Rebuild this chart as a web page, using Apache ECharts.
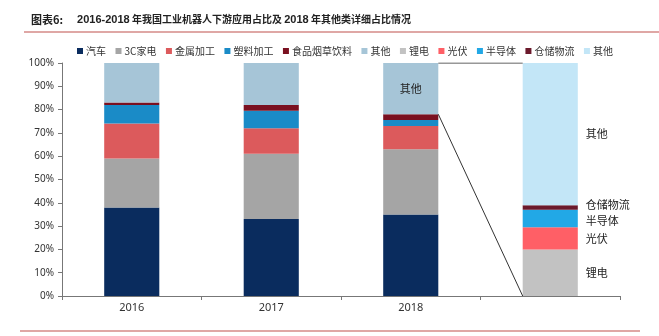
<!DOCTYPE html>
<html><head><meta charset="utf-8">
<script src="https://cdn.jsdelivr.net/npm/echarts@6/dist/echarts.min.js"></script>
<style>html,body{margin:0;padding:0;background:#fff}#c{width:659px;height:336px}</style>
</head><body><div id="c"></div>
<script>
// ---- data ----
const categories = ['2016', '2017', '2018', ''];
const yTicks = [0,10,20,30,40,50,60,70,80,90,100];
// main breakdown (2016-2018)
const mainNames = ['汽车', '3C家电', '金属加工', '塑料加工', '食品烟草饮料', '其他'];
const car      = [38, 33, 35];
const appl3C   = [21, 28, 28];
const metal    = [15, 11, 10];
const plastic  = [8, 7.5, 2.5];
const food     = [1, 2.5, 2.5];
const otherMain= [17, 18, 22];
// 2018 "其他" detail breakdown
const detailNames = ['锂电', '光伏', '半导体', '仓储物流', '其他'];
const lithium  = 20;
const pv       = 9.5;
const semi     = 7.5;
const logistic = 2;
const otherDet = 61;

const mainColors = ['#0a2c5e', '#a5a5a5', '#dc5a5c', '#1a8bc7', '#7a1020', '#a6c5d7'];
const detColors  = ['#c2c2c2', '#ff5f66', '#22a8e6', '#6b1a2c', '#c3e6f7'];
const detOffsets = [[0,0],[0,0],[0,2],[0,-3],[0,0]];

const mainVals = [car, appl3C, metal, plastic, food, otherMain];
const detVals = [lithium, pv, semi, logistic, otherDet];
const barFrac = 0.395;
const font = '"Noto Sans CJK SC", "Noto Sans", sans-serif';

const series = [];
mainNames.forEach((n, i) => {
  series.push({
    name: n, type: 'bar', stack: 'total', barWidth: (barFrac*100)+'%',
    itemStyle: {color: mainColors[i]},
    data: mainVals[i].concat(['-']),
    label: i === 5 ? {
      show: true, position: 'inside', color: '#222', fontSize: 11, fontFamily: font,
      formatter: p => p.dataIndex === 2 ? '其他' : ''
    } : {show: false}
  });
});
detailNames.forEach((n, i) => {
  series.push({
    name: n + '\u200b', type: 'bar', stack: 'total', barWidth: (barFrac*100)+'%',
    itemStyle: {color: detColors[i]},
    data: ['-', '-', '-', detVals[i]],
    label: {show: true, position: 'right', distance: 8, color: '#222', fontSize: 11,
      fontFamily: font, lineHeight: 11, offset: detOffsets[i], formatter: n}
  });
});
// connector lines derived from 2018 stack
const top2018 = car[2] + appl3C[2] + metal[2] + plastic[2] + food[2];
const xR = 2 + 0.5 + barFrac/2;
const xL = 3 + 0.5 - barFrac/2;
series.push({type:'line', xAxisIndex:1, yAxisIndex:0, symbol:'none', silent:true,
  lineStyle:{color:'#333', width:1}, data:[[xR, 100],[xL, 100]], z:5});
series.push({type:'line', xAxisIndex:1, yAxisIndex:0, symbol:'none', silent:true,
  lineStyle:{color:'#333', width:1}, data:[[xR, top2018],[xL, 0]], z:5});

const chart = echarts.init(document.getElementById('c'));
chart.setOption({
  animation: false,
  title: {
    text: '{a|图表6:}{s|}{b|2016-2018} 年我国工业机器人下游应用占比及 {b|2018} 年其他类详细占比情况',
    left: 26, top: 9,
    textStyle: {fontSize: 10, fontWeight: 'bold', color: '#222', fontFamily: font,
      rich: {
        a: {fontSize: 11, fontWeight: 'bold', color: '#222', fontFamily: font},
        s: {width: 14},
        b: {fontSize: 11, fontWeight: 'bold', color: '#222', fontFamily: '"Liberation Sans", Arial, sans-serif'}
      }}
  },
  legend: {
    top: 41, left: 72, itemWidth: 6, itemHeight: 6, itemGap: 9.5,
    icon: 'rect',
    textStyle: {fontSize: 10, color: '#333', fontFamily: font, padding:[0,0,0,-2]},
    formatter: n => n.replace('\u200b', ''),
    data: mainNames.concat(detailNames.map(n => n + '\u200b'))
  },
  grid: {left: 62, right: 39, top: 63, bottom: 40},
  xAxis: [{
    type: 'category', data: categories,
    axisLine: {lineStyle: {color: '#777'}},
    axisTick: {show: true, length: 4, lineStyle: {color: '#777'}},
    axisLabel: {color: '#333', fontSize: 11, fontFamily: '"Noto Sans", sans-serif', margin: 6}
  }, {
    type: 'value', min: 0, max: 4, show: false
  }],
  yAxis: {
    type: 'value', min: 0, max: 100, interval: 10,
    axisLine: {show: true, lineStyle: {color: '#777'}},
    axisTick: {show: true, length: 4, lineStyle: {color: '#777'}},
    splitLine: {show: false},
    axisLabel: {color: '#333', fontSize: 10, fontFamily: '"Noto Sans", sans-serif', formatter: v => v + '%'}
  },
  graphic: [
    {type: 'line', shape: {x1: 24, y1: 32, x2: 659, y2: 32}, style: {stroke: '#c0504d', lineWidth: 1.2}},
    {type: 'line', shape: {x1: 20, y1: 331, x2: 640, y2: 331}, style: {stroke: '#c0504d', lineWidth: 1.2}}
  ],
  series: series
});
</script></body></html>
